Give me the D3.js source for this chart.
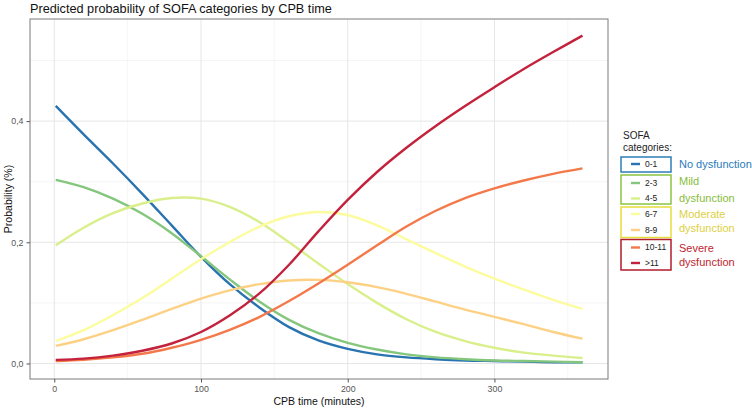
<!DOCTYPE html>
<html><head><meta charset="utf-8">
<script src="https://cdn.jsdelivr.net/npm/d3@7"></script>
<style>body{margin:0;background:#fff}svg{display:block;font-family:"Liberation Sans",Arial,sans-serif}</style>
</head><body>
<svg id="c" width="752" height="409"></svg>
<script>
// ---- data ----
const cpbTime = [1,20,40,60,80,100,120,140,160,180,200,220,240,260,280,300,320,340,360];
const sofa01  = [0.425,0.378,0.330,0.280,0.228,0.176,0.130,0.092,0.060,0.038,0.024,0.015,0.010,0.007,0.005,0.004,0.003,0.002,0.002];
const sofa23  = [0.303,0.291,0.272,0.247,0.215,0.177,0.138,0.102,0.072,0.050,0.034,0.023,0.015,0.010,0.007,0.005,0.004,0.003,0.002];
const sofa45  = [0.195,0.224,0.248,0.264,0.273,0.272,0.258,0.233,0.200,0.165,0.131,0.100,0.073,0.052,0.037,0.026,0.018,0.013,0.009];
const sofa67  = [0.037,0.055,0.080,0.108,0.140,0.172,0.201,0.226,0.243,0.250,0.245,0.228,0.205,0.182,0.160,0.140,0.122,0.105,0.090];
const sofa89  = [0.029,0.040,0.055,0.072,0.090,0.107,0.121,0.131,0.137,0.138,0.134,0.126,0.115,0.102,0.089,0.077,0.065,0.052,0.041];
const sofa1011= [0.004,0.006,0.010,0.016,0.026,0.039,0.056,0.077,0.103,0.132,0.163,0.195,0.226,0.252,0.273,0.289,0.302,0.313,0.322];
const sofaGt11= [0.006,0.008,0.013,0.021,0.033,0.052,0.080,0.116,0.163,0.218,0.270,0.316,0.356,0.392,0.425,0.456,0.486,0.514,0.541];
const seriesNames = ["0-1","2-3","4-5","6-7","8-9","10-11",">11"];
const seriesValues = [sofa01,sofa23,sofa45,sofa67,sofa89,sofa1011,sofaGt11];
const seriesColors = ["#2873b0","#84c67c","#d9ef8b","#fcfc9f","#fdd185","#f4794a","#c3223d"];
const xTicks = [0,100,200,300];
const xMinor = [50,150,250,350];
const yTicks = [0,0.2,0.4];
const yMinor = [0.1,0.3,0.5];
const groups = [
  {lines:["No dysfunction"], members:[0], color:"#2b7bb9", box:"#2c7db8"},
  {lines:["Mild","dysfunction"], members:[1,2], color:"#88bd3c", box:"#8bc441"},
  {lines:["Moderate","dysfunction"], members:[3,4], color:"#ddd043", box:"#e6dd3c"},
  {lines:["Severe","dysfunction"], members:[5,6], color:"#c0242f", box:"#b31b2b"}
];

// ---- layout ----
const svg = d3.select("#c");
const L=30,R=608,T=19,B=379;
const x = d3.scaleLinear().domain([-16.56,377.4]).range([L,R]);
const y = d3.scaleLinear().domain([-0.0256,0.5685]).range([B,T]);

// grid
const g = svg.append("g");
g.selectAll(".mx").data(xMinor).join("line").attr("x1",d=>x(d)).attr("x2",d=>x(d)).attr("y1",T).attr("y2",B).attr("stroke","#f1f1f1").attr("stroke-width",0.7);
g.selectAll(".my").data(yMinor).join("line").attr("y1",d=>y(d)).attr("y2",d=>y(d)).attr("x1",L).attr("x2",R).attr("stroke","#f1f1f1").attr("stroke-width",0.7);
g.selectAll(".Mx").data(xTicks).join("line").attr("x1",d=>x(d)).attr("x2",d=>x(d)).attr("y1",T).attr("y2",B).attr("stroke","#e6e6e6").attr("stroke-width",1);
g.selectAll(".My").data(yTicks).join("line").attr("y1",d=>y(d)).attr("y2",d=>y(d)).attr("x1",L).attr("x2",R).attr("stroke","#e6e6e6").attr("stroke-width",1);

// lines
const line = d3.line().x((d,i)=>x(cpbTime[i])).y(d=>y(d)).curve(d3.curveCatmullRom.alpha(0.5));
seriesValues.forEach((vals,k)=>{
  svg.append("path").attr("d",line(vals)).attr("fill","none").attr("stroke",seriesColors[k]).attr("stroke-width",2.4).attr("stroke-linecap","butt");
});

// border
svg.append("rect").attr("x",L).attr("y",T).attr("width",R-L).attr("height",B-T).attr("fill","none").attr("stroke","#7a7a7a").attr("stroke-width",1);

// axes
const fmt = d=>d3.format(".1f")(d).replace(".",",");
const xa = svg.append("g").attr("transform",`translate(0,${B})`).call(d3.axisBottom(x).tickValues(xTicks).tickSize(3.5).tickPadding(3));
const ya = svg.append("g").attr("transform",`translate(${L},0)`).call(d3.axisLeft(y).tickValues(yTicks).tickFormat(fmt).tickSize(3.5).tickPadding(3));
[xa,ya].forEach(a=>{a.select(".domain").remove();a.selectAll("line").attr("stroke","#555");a.selectAll("text").attr("fill","#555").style("font-size","8.8px").style("font-family","Liberation Sans, Arial, sans-serif");});

// titles
svg.append("text").attr("x",L).attr("y",13).text("Predicted probability of SOFA categories by CPB time").style("font-size","12.7px").attr("fill","#111");
svg.append("text").attr("x",(L+R)/2).attr("y",405).attr("text-anchor","middle").text("CPB time (minutes)").style("font-size","10.5px").attr("fill","#111");
svg.append("text").attr("transform",`translate(12,${(T+B)/2}) rotate(-90)`).attr("text-anchor","middle").text("Probability (%)").style("font-size","10.5px").attr("fill","#111");

// legend
const lg = svg.append("g");
lg.append("text").attr("x",623).attr("y",139).text("SOFA").style("font-size","10px").attr("fill","#222");
lg.append("text").attr("x",623).attr("y",151).text("categories:").style("font-size","10px").attr("fill","#222");
const rowY = [164,183,198.5,214,230,247.5,263];
const boxes = [[157,172],[175,204],[207,237.5],[239.5,270]];
const groupTextY = [[164],[181.5,198],[214,228],[248,262]];
groups.forEach((gr,i)=>{
  lg.append("rect").attr("x",621).attr("y",boxes[i][0]).attr("width",50).attr("height",boxes[i][1]-boxes[i][0]).attr("fill","none").attr("stroke",gr.box).attr("stroke-width",1.5);
  gr.members.forEach(m=>{
    lg.append("line").attr("x1",631).attr("x2",640).attr("y1",rowY[m]).attr("y2",rowY[m]).attr("stroke",seriesColors[m]).attr("stroke-width",2.4);
    lg.append("text").attr("x",645).attr("y",rowY[m]).attr("dy","0.35em").text(seriesNames[m]).style("font-size","8.5px").attr("fill","#222");
  });
  gr.lines.forEach((t,j)=>{
    lg.append("text").attr("x",679).attr("y",groupTextY[i][j]).attr("dy","0.35em").text(t).style("font-size","11px").attr("fill",gr.color);
  });
});
</script>
</body></html>
